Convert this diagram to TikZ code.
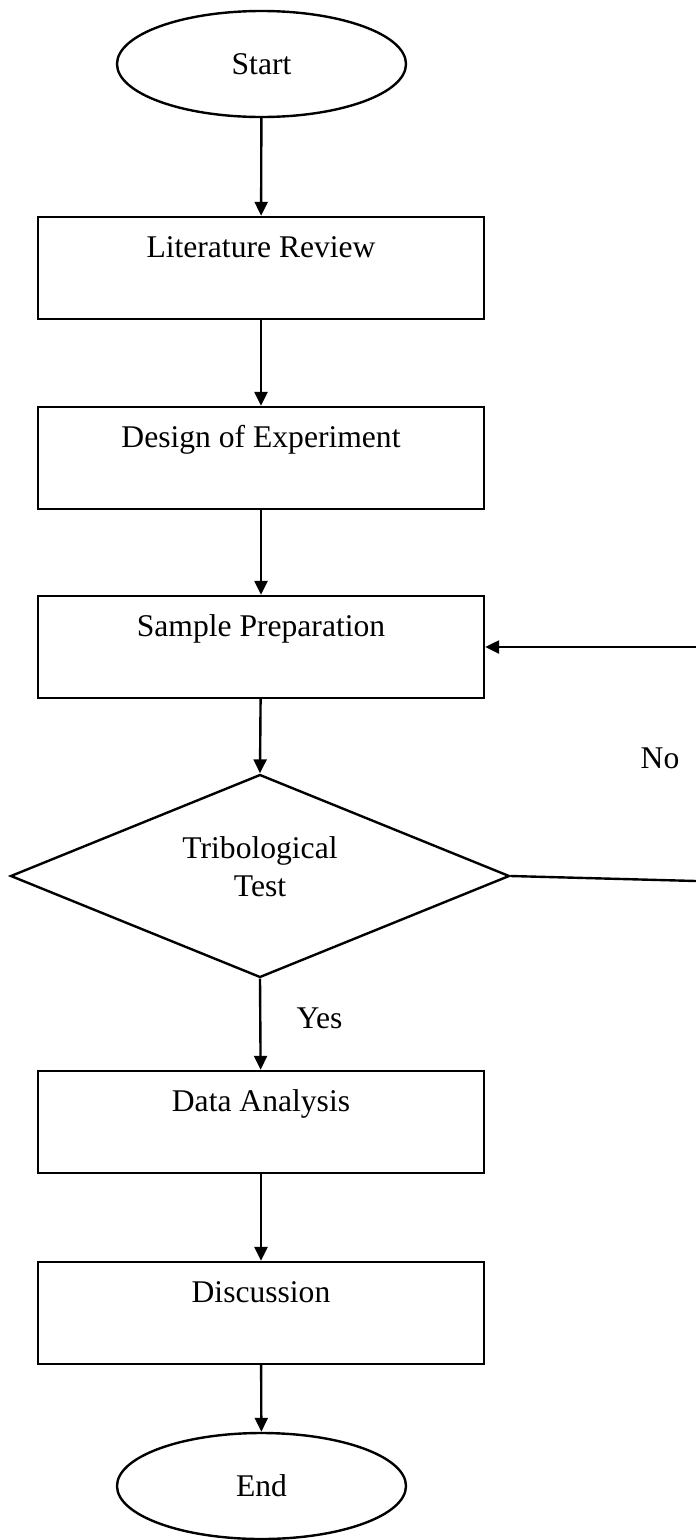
\documentclass[tikz,border=0pt]{standalone}
\usepackage{fontspec}
\setmainfont{Liberation Serif}
\usetikzlibrary{shapes.geometric,arrows.meta}
\begin{document}
\begin{tikzpicture}[x=1pt,y=-1pt,
  every node/.style={font=\fontsize{31.6}{38}\selectfont},
  line/.style={line width=2.4pt},
  arr/.style={line width=2.4pt,-{Triangle[length=14pt,width=13pt]}},
  procbox/.style={draw,line width=2.4pt,rectangle,minimum width=446pt,minimum height=102pt,inner sep=0pt,text height=22pt,text depth=44pt},
  term/.style={draw,line width=2.4pt,ellipse,minimum width=289pt,minimum height=106pt,inner sep=0pt},
  decide/.style={draw,line width=2.4pt,diamond,shape aspect=2.45,minimum width=499pt,minimum height=203pt,inner sep=0pt}
]
\useasboundingbox (0,0) rectangle (696,1540);
\node[term] (start) at (261.5,64) {Start};
\node[procbox] (lit) at (261,268) {Literature Review};
\node[procbox] (doe) at (261,458) {Design of Experiment};
\node[procbox] (sp) at (261,647) {Sample Preparation};
\node[decide] (tt) at (260,876) {\raisebox{0pt}[0pt][0pt]{\begin{tabular}{@{}c@{}}Tribological\\Test\end{tabular}}};
\node[procbox] (da) at (261,1122) {Data Analysis};
\node[procbox] (disc) at (261,1313) {Discussion};
\node[term] (end) at (261.5,1486) {End};
\node (yes) at (319.5,1018) {Yes};
\node (no) at (660,758) {No};
\coordinate (r1) at (696,881);
\coordinate (r2) at (696,647);
\draw[arr] (start) -- (lit);
\draw[arr] (lit) -- (doe);
\draw[arr] (doe) -- (sp);
\draw[arr] (sp) -- (tt.north);
\draw[arr] (tt.south) -- (da);
\draw[arr] (da) -- (disc);
\draw[arr] (disc) -- (end);
\draw[line] (tt.east) -- (r1);
\draw[arr] (r2) -- (sp.east);
\end{tikzpicture}
\end{document}
